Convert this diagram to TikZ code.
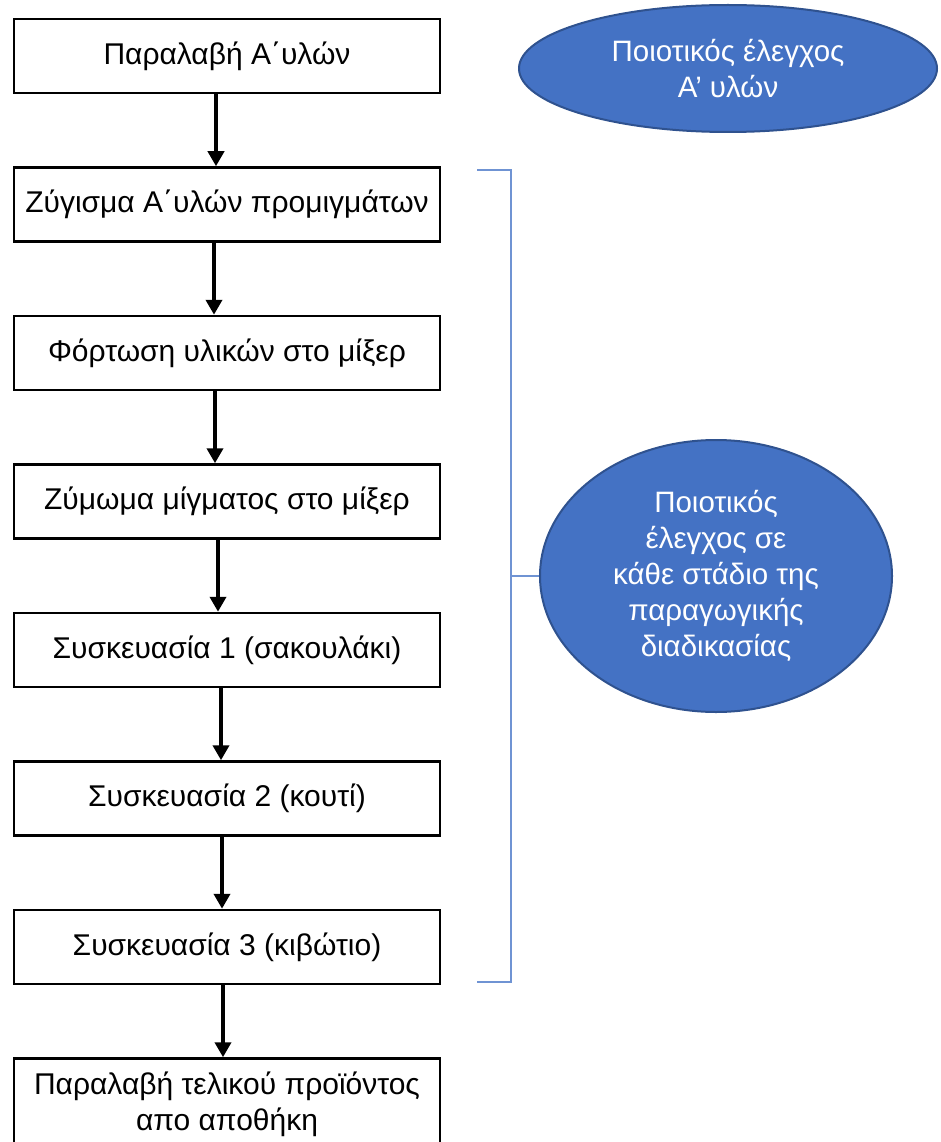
\documentclass[tikz,border=0pt]{standalone}
\usepackage{fontspec}
\setmainfont{Liberation Sans}
\usetikzlibrary{positioning, shapes.geometric, arrows.meta}
\definecolor{qcblue}{HTML}{4472C4}
\definecolor{qcline}{HTML}{2F528F}
\definecolor{bracketblue}{HTML}{6F93D3}
\tikzset {
    node distance=72pt,
    stage/.style={draw, line width=2.5pt, minimum width=426pt, minimum height=74pt,
        inner sep=2pt, align=center, font=\fontsize{30}{36}\selectfont},
    check/.style={ellipse, draw=qcline, line width=2pt, fill=qcblue, text=white,
        inner sep=0pt, align=center, font=\fontsize{29.5}{36}\selectfont},
    flow/.style={line width=4.5pt, -{Triangle[width=16pt,length=15pt]}},
    bracket/.style={draw=bracketblue, line width=1.5pt}
}

\begin{document}
\begin{tikzpicture}[x=1pt, y=-1pt]
    \useasboundingbox (0,0) rectangle (940,1142);

    \node[stage] (q0) at (227,56) {Παραλαβή Α΄υλών};
    \node[stage, below=of q0] (q1) {Ζύγισμα Α΄υλών προμιγμάτων};
    \node[stage, below=of q1] (q2) {Φόρτωση υλικών στο μίξερ};
    \node[stage, below=of q2] (q3) {Ζύμωμα μίγματος στο μίξερ};
    \node[stage, below=of q3] (q4) {Συσκευασία 1 (σακουλάκι)};
    \node[stage, below=of q4] (q5) {Συσκευασία 2 (κουτί)};
    \node[stage, below=of q5] (q6) {Συσκευασία 3 (κιβώτιο)};
    \node[stage, below=of q6, inner ysep=13pt, text depth=34pt] (q7)
        {Παραλαβή τελικού προϊόντος\\απο αποθήκη};

    \foreach \a/\b/\s in {q0/q1/-11, q1/q2/-13, q2/q3/-12, q3/q4/-9, q4/q5/-6, q5/q6/-5, q6/q7/-4}
        \draw[flow] ([xshift=\s pt]\a.south) -- ([xshift=\s pt]\b.north);

    % quality checks
    \node[check, minimum width=418pt, minimum height=127pt] (c0) at (728,68.5)
        {Ποιοτικός έλεγχος\\Α’ υλών};
    \node[check, minimum width=352pt, minimum height=272pt] (c1) at (716,576)
        {Ποιοτικός\\έλεγχος σε\\κάθε στάδιο της\\παραγωγικής\\διαδικασίας};

    \coordinate (bt) at (477,170);
    \coordinate (bb) at (477,982);
    \coordinate (bm) at (511,576);
    \draw[bracket] (bt) -- ++(34,0) |- (bb);
    \draw[bracket] (bm) -- (c1);
\end{tikzpicture}
\end{document}
